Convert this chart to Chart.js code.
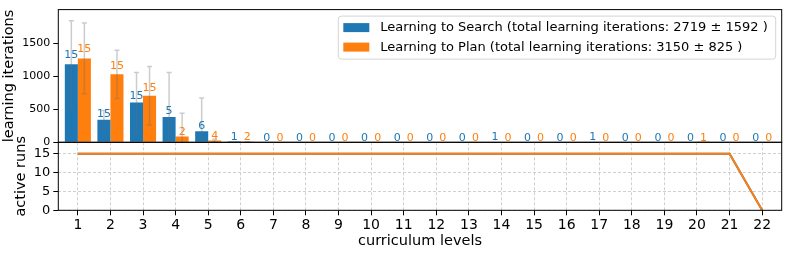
<!DOCTYPE html>
<html>
<head>
<meta charset="utf-8">
<script src="https://cdn.jsdelivr.net/npm/chart.js@4.4.0/dist/chart.umd.min.js"></script>
<style>
  html, body { margin: 0; padding: 0; background: #fff; }
  #wrap { position: relative; width: 789px; height: 253px; }
  #wrap canvas { position: absolute; left: 0; top: 0; }
</style>
</head>
<body>
<div id="wrap">
  <canvas id="iterChart" width="789" height="253"></canvas>
  <canvas id="runsChart" width="789" height="253"></canvas>
</div>
<script>
const levels = [1, 2, 3, 4, 5, 6, 7, 8, 9, 10, 11, 12, 13, 14, 15, 16, 17, 18, 19, 20, 21, 22];

// mean learning iterations per level and std deviation
const searchMean = [1185, 342, 606, 386, 168, 15, 0, 0, 0, 0, 0, 0, 0, 8, 0, 0, 8, 0, 0, 0, 0, 0];
const searchErr = [660, 140, 453, 673, 505, 0, 0, 0, 0, 0, 0, 0, 0, 0, 0, 0, 0, 0, 0, 0, 0, 0];
const searchRuns = [15, 15, 15, 5, 6, 1, 0, 0, 0, 0, 0, 0, 0, 1, 0, 0, 1, 0, 0, 0, 0, 0];

const planMean = [1275, 1032, 708, 89, 27, 5, 0, 0, 0, 0, 0, 0, 0, 0, 0, 0, 0, 0, 0, 3, 0, 0];
const planErr = [537, 368, 445, 352, 20, 4, 0, 0, 0, 0, 0, 0, 0, 0, 0, 0, 0, 0, 0, 0, 0, 0];
const planRuns = [15, 15, 15, 2, 4, 2, 0, 0, 0, 0, 0, 0, 0, 0, 0, 0, 0, 0, 0, 1, 0, 0];

// active runs per level
const activeSearch = [15, 15, 15, 15, 15, 15, 15, 15, 15, 15, 15, 15, 15, 15, 15, 15, 15, 15, 15, 15, 15, 0];
const activePlan = [15, 15, 15, 15, 15, 15, 15, 15, 15, 15, 15, 15, 15, 15, 15, 15, 15, 15, 15, 15, 15, 0];

const iterTicks = [0, 500, 1000, 1500];
const runTicks = [0, 5, 10, 15];

const searchLabel = "Learning to Search (total learning iterations: 2719 \u00b1 1592 )";
const planLabel = "Learning to Plan (total learning iterations: 3150 \u00b1 825 )";

const BLUE = "#1f77b4";
const ORANGE = "#ff7f0e";
const FONT = "DejaVu Sans";

const extras = [
  { err: searchErr, runs: searchRuns },
  { err: planErr, runs: planRuns },
];

function pts(values) {
  return values.map((v, i) => ({ x: levels[i], y: v }));
}

const frame = {
  id: "frame",
  afterDraw(chart) {
    const { ctx, chartArea: a } = chart;
    ctx.save();
    ctx.strokeStyle = "#000";
    ctx.lineWidth = 1;
    ctx.strokeRect(a.left, a.top, a.right - a.left, a.bottom - a.top);
    ctx.restore();
  },
};

const errorBars = {
  id: "errorBars",
  afterDatasetsDraw(chart) {
    const { ctx, chartArea: a, scales } = chart;
    ctx.save();
    ctx.beginPath();
    ctx.rect(a.left, a.top, a.right - a.left, a.bottom - a.top);
    ctx.clip();
    ctx.strokeStyle = "rgba(110,110,110,0.35)";
    ctx.lineWidth = 1.5;
    chart.data.datasets.forEach((ds, di) => {
      const meta = chart.getDatasetMeta(di);
      meta.data.forEach((bar, i) => {
        const e = extras[di].err[i];
        if (!e) return;
        const m = ds.data[i].y;
        const y1 = scales.y.getPixelForValue(m - e);
        const y2 = scales.y.getPixelForValue(m + e);
        ctx.beginPath();
        ctx.moveTo(bar.x, y1);
        ctx.lineTo(bar.x, y2);
        ctx.moveTo(bar.x - 2.5, y1);
        ctx.lineTo(bar.x + 2.5, y1);
        ctx.moveTo(bar.x - 2.5, y2);
        ctx.lineTo(bar.x + 2.5, y2);
        ctx.stroke();
      });
    });
    ctx.restore();

    // run counts above the bars
    ctx.save();
    ctx.font = "11px '" + FONT + "'";
    ctx.textAlign = "center";
    ctx.textBaseline = "alphabetic";
    chart.data.datasets.forEach((ds, di) => {
      const meta = chart.getDatasetMeta(di);
      ctx.fillStyle = ds.backgroundColor;
      meta.data.forEach((bar, i) => {
        const m = ds.data[i].y;
        const y = scales.y.getPixelForValue(m * 1.06) - 1.5;
        ctx.fillText(String(extras[di].runs[i]), bar.x, y);
      });
    });
    ctx.restore();
  },
};

const boxLegend = {
  id: "boxLegend",
  afterDraw(chart) {
    const { ctx, chartArea: a } = chart;
    const items = chart.data.datasets;
    ctx.save();
    ctx.font = "13px '" + FONT + "'";
    const textW = Math.max(...items.map((d) => ctx.measureText(d.label).width));
    const w = 5 + 26 + 11 + textW + 8;
    const h = 43;
    const x = a.right - 6 - w;
    const y = a.top + 6.5;
    ctx.beginPath();
    ctx.roundRect(x, y, w, h, 3);
    ctx.fillStyle = "rgba(255,255,255,0.8)";
    ctx.fill();
    ctx.strokeStyle = "#d4d4d4";
    ctx.lineWidth = 1;
    ctx.stroke();
    items.forEach((d, i) => {
      const cy = y + 11.5 + i * 19.5;
      ctx.fillStyle = d.backgroundColor;
      ctx.fillRect(x + 5, cy - 4.5, 26, 9);
      ctx.fillStyle = "#000";
      ctx.textBaseline = "middle";
      ctx.fillText(d.label, x + 42, cy + 0.5);
    });
    ctx.restore();
  },
};

const plainTick = (v) => String(v);

new Chart(document.getElementById("iterChart"), {
  type: "bar",
  data: {
    datasets: [
      { label: searchLabel, data: pts(searchMean), backgroundColor: BLUE, borderWidth: 0 },
      { label: planLabel, data: pts(planMean), backgroundColor: ORANGE, borderWidth: 0 },
    ],
  },
  options: {
    responsive: false,
    animation: false,
    events: [],
    layout: { padding: { top: 6, right: 7.3, bottom: 110.7, left: 0 } },
    datasets: { bar: { categoryPercentage: 0.8, barPercentage: 1.0 } },
    plugins: { legend: { display: false }, tooltip: { enabled: false } },
    scales: {
      x: {
        type: "linear",
        min: 0.4,
        max: 22.6,
        offset: false,
        display: false,
      },
      y: {
        min: 0,
        max: 2016,
        afterFit: (s) => { s.width = 58.3; },
        afterBuildTicks: (s) => { s.ticks = iterTicks.map((v) => ({ value: v })); },
        grid: { drawOnChartArea: false, tickColor: "#000", tickLength: 5, tickWidth: 1 },
        border: { display: false },
        ticks: { color: "#000", padding: 3, callback: plainTick, font: { family: FONT, size: 11 } },
        title: {
          display: true,
          text: "learning iterations",
          color: "#000",
          font: { family: FONT, size: 14.5 },
          padding: { top: 1, bottom: 0 },
        },
      },
    },
  },
  plugins: [errorBars, frame, boxLegend],
});

new Chart(document.getElementById("runsChart"), {
  type: "line",
  data: {
    datasets: [
      { data: pts(activeSearch), borderColor: BLUE, borderWidth: 2, pointRadius: 0, fill: false, order: 1 },
      { data: pts(activePlan), borderColor: ORANGE, borderWidth: 2, pointRadius: 0, fill: false, order: 0 },
    ],
  },
  options: {
    responsive: false,
    animation: false,
    events: [],
    layout: { padding: { top: 142.3, right: 7.3, bottom: 0, left: 0 } },
    plugins: { legend: { display: false }, tooltip: { enabled: false } },
    scales: {
      x: {
        type: "linear",
        min: 0.4,
        max: 22.6,
        afterFit: (s) => { s.height = 42.7; },
        afterBuildTicks: (s) => { s.ticks = levels.map((v) => ({ value: v })); },
        grid: { color: "#c4c4c4", lineWidth: 0.8, tickColor: "#000", tickLength: 5, tickWidth: 1 },
        border: { display: false, dash: [3, 2] },
        ticks: { color: "#000", padding: 2, maxRotation: 0, autoSkip: false, callback: plainTick, font: { family: FONT, size: 14 } },
        title: {
          display: true,
          text: "curriculum levels",
          color: "#000",
          font: { family: FONT, size: 14.5 },
          padding: { top: 0, bottom: 3.3 },
        },
      },
      y: {
        min: 0,
        max: 18,
        afterFit: (s) => { s.width = 58.3; },
        afterBuildTicks: (s) => { s.ticks = runTicks.map((v) => ({ value: v })); },
        grid: { color: "#c4c4c4", lineWidth: 0.8, tickColor: "#000", tickLength: 5, tickWidth: 1 },
        border: { display: false, dash: [3, 2] },
        ticks: { color: "#000", padding: 3, callback: plainTick, font: { family: FONT, size: 13 } },
        title: {
          display: true,
          text: "active runs",
          color: "#000",
          font: { family: FONT, size: 14.5 },
          padding: { top: 13, bottom: 0 },
        },
      },
    },
  },
  plugins: [frame],
});
</script>
</body>
</html>
